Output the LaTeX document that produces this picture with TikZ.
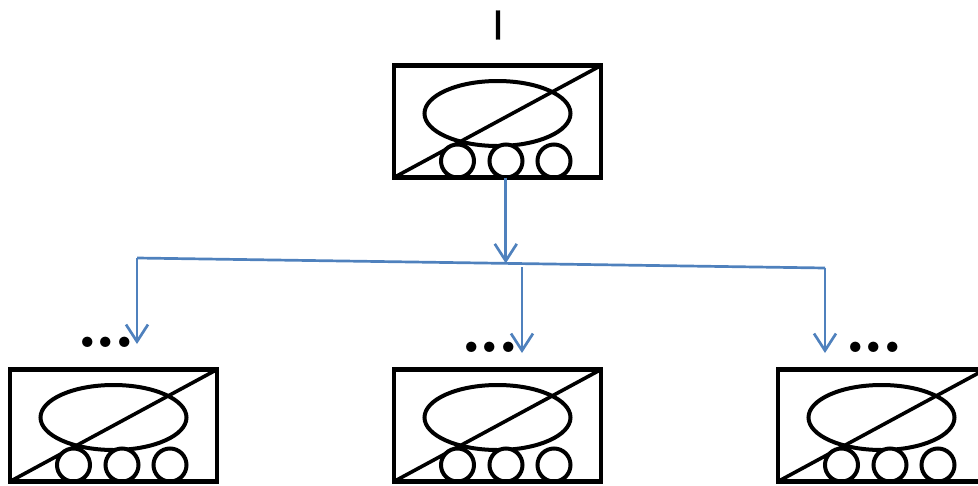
\documentclass[tikz,border=0pt]{standalone}
\usepackage{fontspec}
\newfontfamily\labelfont[FakeBold=0.6]{Liberation Sans}
\usetikzlibrary{shapes.geometric, arrows.meta, calc}
\definecolor{link-blue}{HTML}{4F81BD}
\tikzstyle{tank-box} = [rectangle, minimum width=207pt, minimum height=112pt, outer sep=0pt, inner sep=0pt, draw=black, line width=4.6pt]
\tikzstyle{tank-hull} = [ellipse, minimum width=146pt, minimum height=65pt, outer sep=0pt, inner sep=0pt, draw=black, line width=4pt]
\tikzstyle{tank-wheel} = [circle, minimum size=33pt, outer sep=0pt, inner sep=0pt, draw=black, fill=white, line width=4pt]
\tikzstyle{diag} = [draw=black, line width=3.6pt]
\tikzstyle{arrow} = [draw=link-blue, line width=2.7pt, -{Straight Barb[length=17pt,width=22pt,line width=2.7pt]}]
\tikzstyle{link} = [draw=link-blue, line width=2.7pt]
\tikzstyle{dots} = [inner sep=0pt, font=\fontsize{72}{72}\bfseries\selectfont]

\begin{document}
\begin{tikzpicture}[x=1pt, y=-1pt]

\useasboundingbox (0,0) rectangle (978,485);
\clip (0,0) rectangle (978,485);

% boxes
\node (top) [tank-box] at (497.5,121.5) {};
\node (left) [tank-box] at (113.5,425.5) {};
\node (mid) [tank-box] at (497.5,425.5) {};
\node (right) [tank-box] at (881.5,425.5) {};

% inside of each box
\foreach \b in {top, left, mid, right} {
    \draw [diag] (\b.south west) -- (\b.north east);
    \node (\b-hull) [tank-hull, yshift=8pt] at (\b) {};
    \node (\b-w1) [tank-wheel, xshift=-40pt, yshift=-39.5pt] at (\b) {};
    \node (\b-w2) [tank-wheel, xshift=8.5pt, yshift=-39.5pt] at (\b) {};
    \node (\b-w3) [tank-wheel, xshift=56.5pt, yshift=-39.5pt] at (\b) {};
    \draw [draw=black, line width=4.6pt] (\b.south west) -- (\b.south east);
}

% labels
\node (top-label) [inner sep=0pt, font=\labelfont\fontsize{42}{42}\selectfont] at (498,25) {I};
\node (left-dots) [dots] at (106,342) {.\kern-4pt.\kern-4pt.};
\node (mid-dots) [dots] at (490,347) {.\kern-4pt.\kern-4pt.};
\node (right-dots) [dots] at (874,347) {.\kern-4pt.\kern-4pt.};

% connectors
\coordinate (bar-l) at (137,258);
\coordinate (bar-r) at (825,268);
\coordinate (bar-c) at ($(bar-l)!0.536!(bar-r)$);
\coordinate (bar-m) at (522,267);

\draw [arrow] (top.south -| bar-c) -- (bar-c);
\draw [link] (bar-l) -- (bar-r);
\draw [arrow] (bar-l) -- (137,344);
\draw [arrow] (bar-m) -- (522,353);
\draw [arrow] (bar-r) -- (825,353);

\end{tikzpicture}
\end{document}
